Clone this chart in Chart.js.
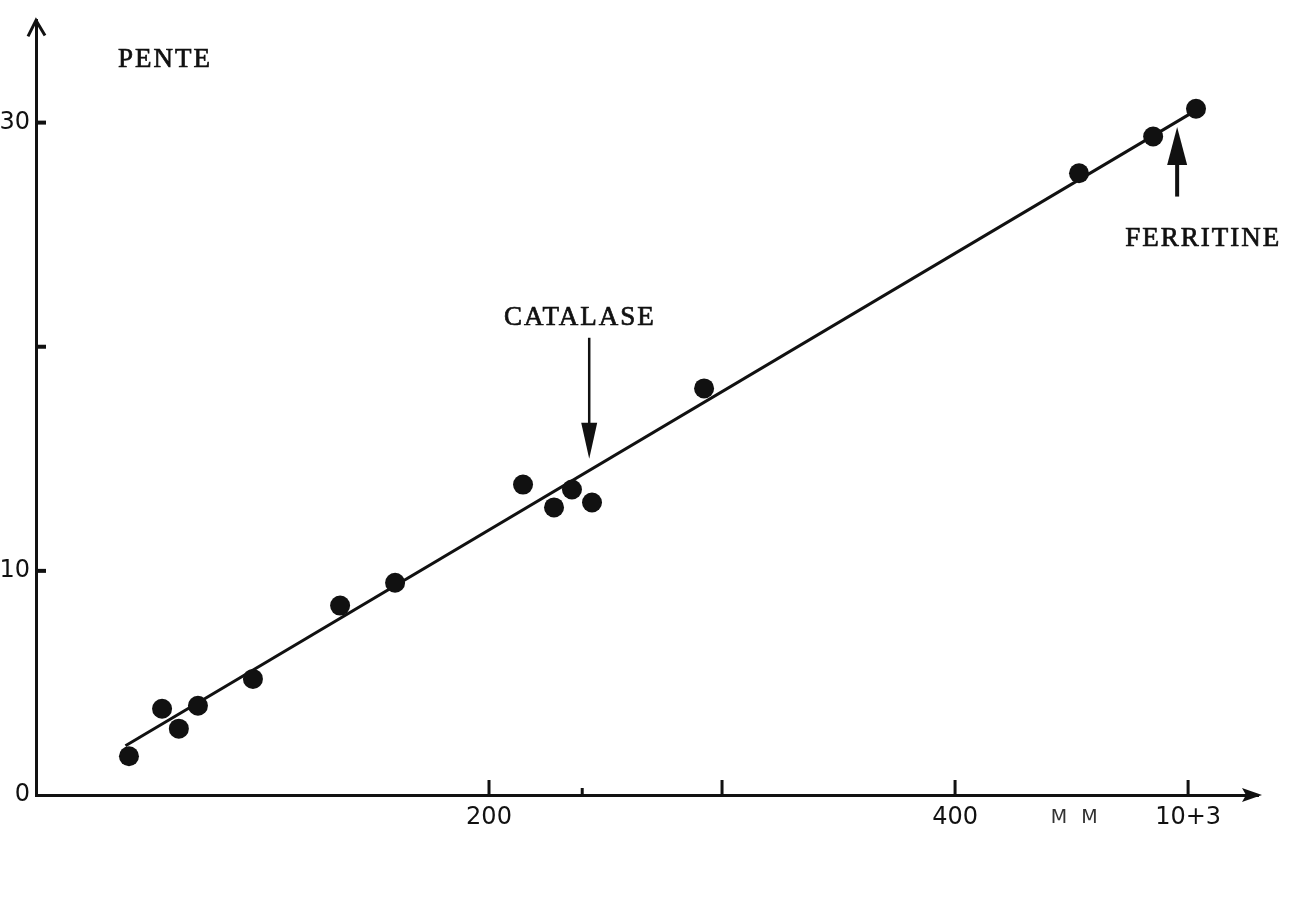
<!DOCTYPE html>
<html>
<head>
<meta charset="utf-8">
<title>Pente</title>
<script src="https://cdn.jsdelivr.net/npm/chart.js@4.4.1/dist/chart.umd.min.js"></script>
<style>
  html, body { margin: 0; padding: 0; background: #fff; }
  #wrap { width: 1293px; height: 901px; }
</style>
</head>
<body>
<div id="wrap"><canvas id="pente"></canvas></div>
<script>
// masse moleculaire (x 10^3) et pente mesuree
const masses = [45.5, 59.7, 66.9, 75.1, 98.7, 136.1, 159.7, 214.6, 227.9, 235.6, 244.2, 292.3, 453.2, 485.0, 503.4];
const pentes = [1.73, 3.85, 2.96, 3.98, 5.18, 8.45, 9.47, 13.85, 12.83, 13.63, 13.05, 18.14, 27.74, 29.38, 30.62];

// droite tracee a travers les points
const droiteX = [44, 501];
const droiteY = [2.2, 30.4];

const xTicks = [200, 300, 400, 500];
const xTickLabels = ["200", "", "400", "10+3"];
const xMinorTicks = [240];
const yTicks = [0, 10, 20, 30];
const yTickLabels = ["0", "10", "", "30"];

const INK = "#111";
const LABEL_FONT = "27px 'Liberation Serif', serif";

// labels and arrows, anchored in data space
const notes = [
  { text: "PENTE", x: 61, y: 32.8 },
  { text: "CATALASE", x: 239, y: 21.3 },
  { text: "FERRITINE", x: 506.5, y: 24.8 }
];
const arrows = [
  { x: 243, from: 20.4, to: 15.0, head: 36, half: 8, width: 2.5 },
  { x: 495.3, from: 26.7, to: 29.8, head: 38, half: 10, width: 4 }
];

function segment(ctx, x1, y1, x2, y2) {
  ctx.beginPath();
  ctx.moveTo(x1, y1);
  ctx.lineTo(x2, y2);
  ctx.stroke();
}

const axesPlugin = {
  id: "axes",
  afterDraw(chart) {
    const { ctx, chartArea: a, scales: { x, y } } = chart;
    ctx.save();
    ctx.strokeStyle = INK;
    ctx.fillStyle = INK;
    ctx.lineCap = "butt";

    // tick marks point into the plot
    ctx.lineWidth = 3;
    x.ticks.forEach(t => {
      const px = x.getPixelForValue(t.value);
      segment(ctx, px, a.bottom, px, a.bottom - 15);
    });
    xMinorTicks.forEach(v => {
      const px = x.getPixelForValue(v);
      segment(ctx, px, a.bottom + 2, px, a.bottom - 7);
    });
    ctx.lineWidth = 4;
    y.ticks.forEach(t => {
      if (t.value === 0) return;
      const py = y.getPixelForValue(t.value);
      segment(ctx, a.left, py, a.left + 10, py);
    });

    // open arrow on the vertical axis
    ctx.lineWidth = 3;
    ctx.beginPath();
    ctx.moveTo(a.left - 8, a.top + 16);
    ctx.lineTo(a.left, a.top);
    ctx.lineTo(a.left + 9, a.top + 15);
    ctx.stroke();

    // filled arrow on the horizontal axis
    ctx.beginPath();
    ctx.moveTo(a.right + 4, a.bottom);
    ctx.lineTo(a.right - 16, a.bottom - 7);
    ctx.lineTo(a.right - 12, a.bottom);
    ctx.lineTo(a.right - 16, a.bottom + 7);
    ctx.closePath();
    ctx.fill();

    // axis name under the abscissa
    ctx.font = "19px 'DejaVu Sans', sans-serif";
    ctx.letterSpacing = "4px";
    ctx.textAlign = "center";
    ctx.textBaseline = "middle";
    ctx.fillStyle = "#333";
    ctx.fillText("M M", x.getPixelForValue(452), a.bottom + 23);
    ctx.restore();
  }
};

const notesPlugin = {
  id: "notes",
  afterDraw(chart) {
    const { ctx, scales: { x, y } } = chart;
    ctx.save();
    ctx.fillStyle = INK;
    ctx.strokeStyle = INK;
    ctx.font = LABEL_FONT;
    ctx.letterSpacing = "2px";
    ctx.textAlign = "center";
    ctx.textBaseline = "middle";
    ctx.lineWidth = 0.7;
    notes.forEach(n => {
      const px = x.getPixelForValue(n.x);
      const py = y.getPixelForValue(n.y);
      ctx.fillText(n.text, px, py);
      ctx.strokeText(n.text, px, py);
    });

    arrows.forEach(ar => {
      const px = x.getPixelForValue(ar.x);
      const y0 = y.getPixelForValue(ar.from);
      const y1 = y.getPixelForValue(ar.to);
      const dir = y1 > y0 ? 1 : -1;
      ctx.lineWidth = ar.width;
      segment(ctx, px, y0, px, y1 - dir * ar.head * 0.6);
      ctx.beginPath();
      ctx.moveTo(px, y1);
      ctx.lineTo(px - ar.half, y1 - dir * ar.head);
      ctx.lineTo(px + ar.half, y1 - dir * ar.head);
      ctx.closePath();
      ctx.fill();
    });
    ctx.restore();
  }
};

const tickFont = { family: "'DejaVu Sans', sans-serif", size: 24 };

new Chart(document.getElementById("pente"), {
  type: "scatter",
  data: {
    datasets: [
      {
        label: "mesures",
        data: masses.map((m, i) => ({ x: m, y: pentes[i] })),
        pointRadius: 10,
        pointHoverRadius: 10,
        backgroundColor: INK,
        borderColor: INK,
        borderWidth: 0,
        order: 0
      },
      {
        label: "droite",
        data: droiteX.map((v, i) => ({ x: v, y: droiteY[i] })),
        showLine: true,
        pointRadius: 0,
        borderColor: INK,
        borderWidth: 3,
        order: 1
      }
    ]
  },
  options: {
    responsive: true,
    maintainAspectRatio: false,
    animation: false,
    layout: { padding: { top: 14, right: 35, left: 0, bottom: 0 } },
    plugins: {
      legend: { display: false },
      tooltip: { enabled: false }
    },
    scales: {
      x: {
        type: "linear",
        min: 5.6,
        max: 530,
        grid: { display: false, drawTicks: false },
        border: { color: INK, width: 3 },
        afterBuildTicks: s => { s.ticks = xTicks.map(v => ({ value: v })); },
        afterFit: s => { s.height = 106; },
        ticks: {
          autoSkip: false,
          maxRotation: 0,
          padding: 8,
          color: INK,
          font: tickFont,
          callback: (v, i) => xTickLabels[i]
        }
      },
      y: {
        type: "linear",
        min: 0,
        max: 34.56,
        grid: { display: false, drawTicks: false },
        border: { color: INK, width: 3 },
        afterBuildTicks: s => { s.ticks = yTicks.map(v => ({ value: v })); },
        afterFit: s => { s.width = 36; },
        ticks: {
          autoSkip: false,
          padding: 6,
          color: INK,
          font: tickFont,
          callback: (v, i) => yTickLabels[i]
        }
      }
    }
  },
  plugins: [axesPlugin, notesPlugin]
});
</script>
</body>
</html>
